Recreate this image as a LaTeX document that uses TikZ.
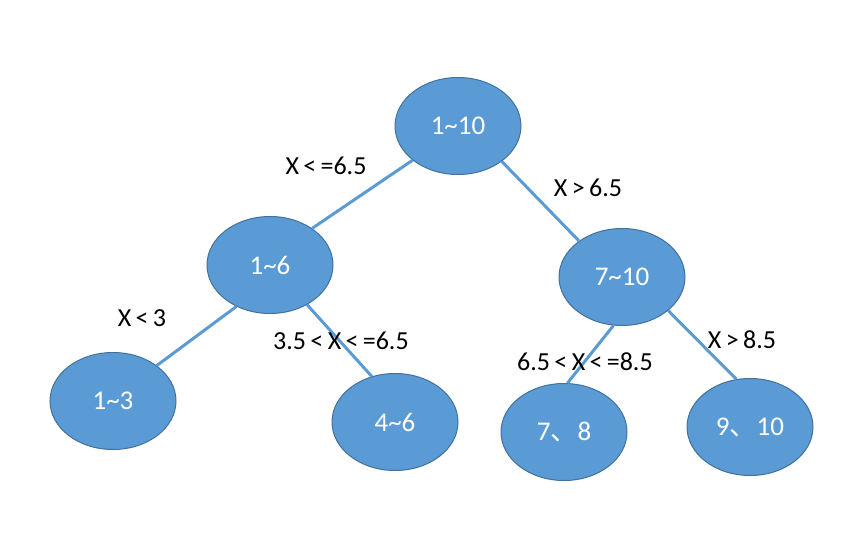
\documentclass[tikz,border=0pt]{standalone}
\usepackage{fontspec}
\setmainfont{Carlito}
\newfontfamily\cjk{Noto Sans CJK SC}
\usetikzlibrary{shapes.geometric}
\definecolor{nodefill}{HTML}{5B9BD5}
\definecolor{nodeline}{HTML}{41719C}
\definecolor{edgecol}{HTML}{5B9BD5}
\tikzset{
  leaf/.style={ellipse, draw=nodeline, line width=1pt, fill=nodefill, minimum width=126pt, minimum height=97pt, inner sep=0pt, text=white, font=\fontsize{27}{30}\selectfont},
  edge/.style={draw=edgecol, line width=3pt},
  lbl/.style={font=\fontsize{26}{30}\selectfont, text=black, inner sep=0pt}
}
\newcommand{\dun}{{\cjk 、}}
\begin{document}
\begin{tikzpicture}[x=1pt,y=-1pt]
\useasboundingbox (0,0) rectangle (844,535);
\node[leaf] (r) at (458,126) {1\textasciitilde 10};
\node[leaf] (a) at (270,265) {1\textasciitilde 6};
\node[leaf] (b) at (622,277) {7\textasciitilde 10};
\node[leaf] (c) at (113,401) {1\textasciitilde 3};
\node[leaf] (d) at (395,422) {4\textasciitilde 6};
\node[leaf] (e) at (564,432) {7\dun 8};
\node[leaf] (f) at (750,427) {9\dun 10};
\draw[edge] (r.217) -- (a.41);
\draw[edge] (r.321) -- (b.140);
\draw[edge] (a.231) -- (c.39);
\draw[edge] (a.313) -- (d.117);
\draw[edge] (b.260) -- (e.86);
\draw[edge] (b.324) -- (f.106);
\node[lbl] (l1) at (326,166) {X\,<\,=6.5};
\node[lbl] (l2) at (588,188) {X\,>\,6.5};
\node[lbl] (l3) at (142,318) {X\,<\,3};
\node[lbl] (l4) at (341,341) {3.5\,<\,X\,<\,=6.5};
\node[lbl] (l5) at (585,362) {6.5\,<\,X\,<\,=8.5};
\node[lbl] (l6) at (742,340) {X\,>\,8.5};
\end{tikzpicture}
\end{document}
